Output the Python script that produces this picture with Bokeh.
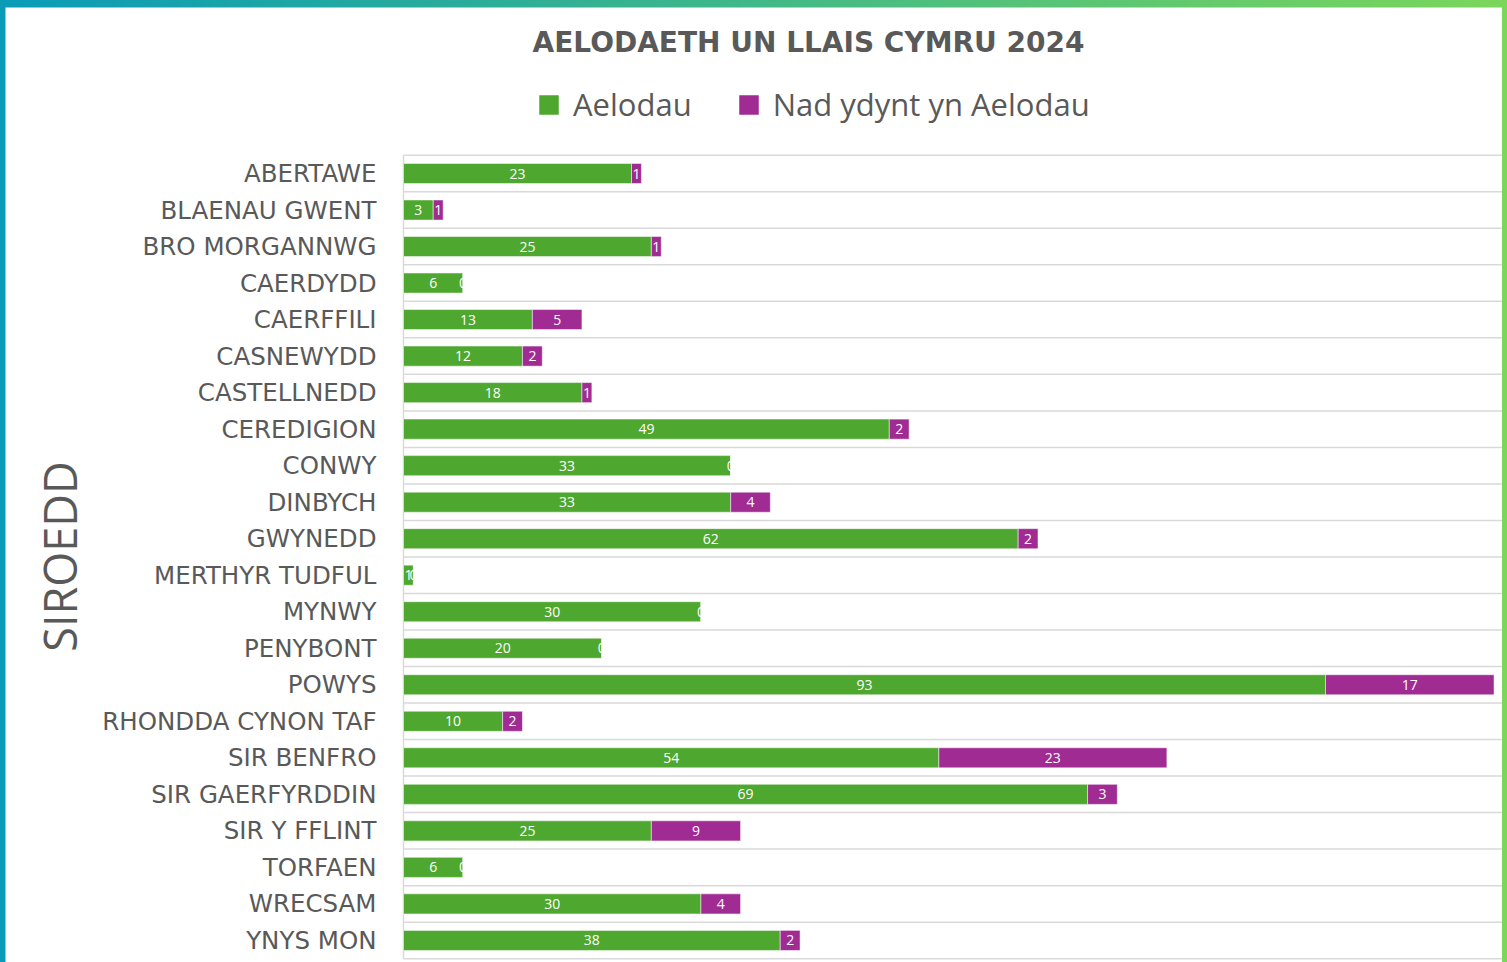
import math
from bokeh.plotting import figure
from bokeh.layouts import column
from bokeh.models import (ColumnDataSource, Range1d, Label, Legend, LegendItem)
from bokeh.core.properties import value
from bokeh.embed import file_html
from bokeh.resources import INLINE

# ---- data ----
categories = ["ABERTAWE", "BLAENAU GWENT", "BRO MORGANNWG", "CAERDYDD", "CAERFFILI",
              "CASNEWYDD", "CASTELLNEDD", "CEREDIGION", "CONWY", "DINBYCH", "GWYNEDD",
              "MERTHYR TUDFUL", "MYNWY", "PENYBONT", "POWYS", "RHONDDA CYNON TAF",
              "SIR BENFRO", "SIR GAERFYRDDIN", "SIR Y FFLINT", "TORFAEN", "WRECSAM", "YNYS MON"]
aelodau = [23, 3, 25, 6, 13, 12, 18, 49, 33, 33, 62, 1, 30, 20, 93, 10, 54, 69, 25, 6, 30, 38]
nad_aelodau = [1, 1, 1, 0, 5, 2, 1, 2, 0, 4, 2, 0, 0, 0, 17, 2, 23, 3, 9, 0, 4, 2]
series_names = ["Aelodau", "Nad ydynt yn Aelodau"]
title_text = "AELODAETH UN LLAIS CYMRU 2024"
axis_title = "SIROEDD"

GREEN = "#4EA72E"
PURPLE = "#A02B93"
TXT = "#595959"
GRID = "#D9D9D9"

n = len(categories)
pos = list(range(n))
totals = [a + b for a, b in zip(aelodau, nad_aelodau)]
src = ColumnDataSource(dict(
    y=pos, zero=[0] * n, a=aelodau, b=nad_aelodau, tot=totals, cat=categories,
    a_mid=[a / 2 for a in aelodau],
    b_mid=[a + b / 2 for a, b in zip(aelodau, nad_aelodau)],
    a_lab=[str(a) for a in aelodau],
    b_lab=[str(b) for b in nad_aelodau],
))
bounds_src = ColumnDataSource(dict(yb=[i - 0.5 for i in range(n + 1)],
                                   x0=[0] * (n + 1)))

# ---- geometry (canvas pixels) ----
W, H = 1497, 955
PLOT_LEFT = 398          # where value 0 sits
PX_PER_UNIT = 9.914      # horizontal scale
ROW_PX = 36.52           # vertical space per category
FIRST_ROW_PX = 166       # centre of first row from canvas top

p = figure(width=W, height=H, output_backend="svg", toolbar_location=None,
           x_range=Range1d(-PLOT_LEFT / PX_PER_UNIT, (W - PLOT_LEFT) / PX_PER_UNIT),
           y_range=Range1d((H - FIRST_ROW_PX) / ROW_PX, -FIRST_ROW_PX / ROW_PX),
           x_axis_location=None, y_axis_location=None,
           min_border=0, margin=(7, 5, 0, 5))
p.outline_line_color = None
p.background_fill_color = "white"
p.border_fill_color = "white"
p.grid.visible = False

# category separators and left axis line
p.ray(x="x0", y="yb", length=0, angle=0, source=bounds_src,
      line_color=GRID, line_width=1.5)
p.segment(x0=0, y0=-0.5, x1=0, y1=n - 0.5, line_color=GRID, line_width=1.5)

bh = 0.55
r1 = p.hbar(y="y", left="zero", right="a", height=bh, source=src,
            fill_color=GREEN, line_color="white", line_alpha=0.5, line_width=1)
r2 = p.hbar(y="y", left="a", right="tot", height=bh, source=src,
            fill_color=PURPLE, line_color="white", line_alpha=0.5, line_width=1)

p.text(x="a_mid", y="y", text="a_lab", source=src, text_color="white",
       text_font=value("Open Sans"), text_font_size="14px",
       text_align="center", text_baseline="middle")
p.text(x="b_mid", y="y", text="b_lab", source=src, text_color="white",
       text_font=value("Open Sans"), text_font_size="14px",
       text_align="center", text_baseline="middle")

# category (tick) labels
p.text(x="zero", y="y", text="cat", source=src, x_offset=-27, text_color=TXT,
       text_font=value("DejaVu Sans"), text_font_size="24.5px",
       text_align="right", text_baseline="middle")

# axis title
p.add_layout(Label(x=54, y=H - 549, x_units="screen", y_units="screen", text=axis_title,
                   angle=math.pi / 2, text_font="Open Sans", text_font_size="45px",
                   text_color=TXT, text_align="center", text_baseline="middle"))

# chart title
p.add_layout(Label(x=803, y=H - 35, x_units="screen", y_units="screen", text=title_text,
                   text_font="DejaVu Sans", text_font_style="bold", text_font_size="28px",
                   text_color=TXT, text_align="center", text_baseline="middle"))

legend = Legend(items=[LegendItem(label=series_names[0], renderers=[r1]),
                       LegendItem(label=series_names[1], renderers=[r2])],
                orientation="horizontal", location=(531, H - 118))
legend.label_text_font = "Open Sans"
legend.label_text_font_size = "31px"
legend.label_text_color = TXT
legend.glyph_width = 25
legend.glyph_height = 25
legend.label_height = 25
legend.label_standoff = 12
legend.spacing = 44
legend.padding = 0
legend.margin = 0
legend.border_line_color = None
legend.background_fill_alpha = 0
p.add_layout(legend, "center")

page = column(p, styles={"background": "linear-gradient(to right, #0A9BB8, #2FAF96 35%, #7BD65A)"})

open("out.html", "w").write(file_html(page, INLINE))
